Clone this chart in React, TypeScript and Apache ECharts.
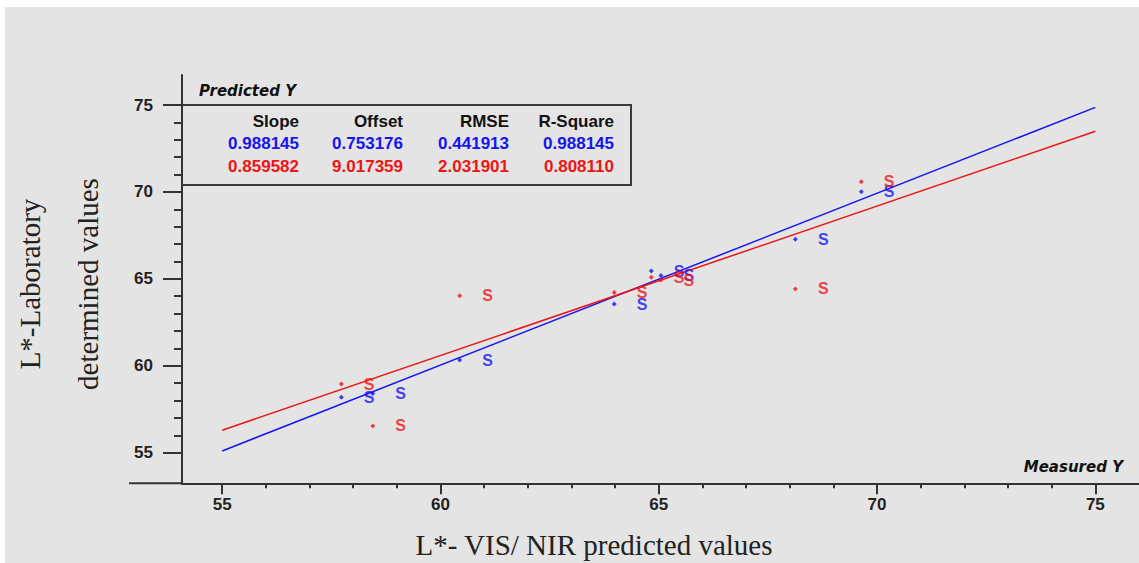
import React, { useEffect, useRef } from "react";
import * as echarts from "echarts";

// ---- data ----
const xMajorTicks = [55, 60, 65, 70, 75];
const yMajorTicks = [55, 60, 65, 70, 75];
const xMinorTicks = [56, 57, 58, 59, 61, 62, 63, 64, 66, 67, 68, 69, 71, 72, 73, 74];
const yMinorTicks = [56, 57, 58, 59, 61, 62, 63, 64, 66, 67, 68, 69, 71, 72, 73, 74];

const measured = [57.73, 58.45, 60.44, 63.98, 64.83, 65.05, 68.13, 69.64];
const predictedBlue = [58.19, 58.41, 60.33, 63.55, 65.45, 65.2, 67.28, 70.01];
const predictedRed = [58.95, 56.54, 64.03, 64.21, 65.09, 64.93, 64.42, 70.59];
const sampleLabels = ["S", "S", "S", "S", "S", "S", "S", "S"];

const statHeaders = ["Slope", "Offset", "RMSE", "R-Square"];
const blueStats = ["0.988145", "0.753176", "0.441913", "0.988145"];
const redStats = ["0.859582", "9.017359", "2.031901", "0.808110"];
const lineRange = [55, 75];

const BLUE = "#1414f0";
const RED = "#ee1414";
const AXIS = "#333333";

export default function App() {
  const ref = useRef<HTMLDivElement>(null);

  useEffect(() => {
    if (!ref.current) return;
    const chart = echarts.init(ref.current, undefined, { renderer: "svg" });

    const fitLine = (stats: string[]) =>
      lineRange.map((x) => [x, parseFloat(stats[0]) * x + parseFloat(stats[1])]);

    const pts = (ys: number[]) => measured.map((x, i) => [x, ys[i], sampleLabels[i]]);

    const colX = [299, 403, 509, 614];
    const rowY = [121, 143.5, 166.5];
    const tableTexts: any[] = [];
    [statHeaders, blueStats, redStats].forEach((row, r) => {
      row.forEach((t, c) => {
        tableTexts.push({
          type: "text",
          x: colX[c],
          y: rowY[r],
          style: {
            text: t,
            fill: r === 0 ? "#111" : r === 1 ? BLUE : RED,
            font: "bold 17px 'Liberation Sans', Arial, sans-serif",
            align: "right",
            verticalAlign: "middle",
          },
        });
      });
    });

    const commonX = {
      type: "value",
      min: 54.08,
      max: 76,
      splitLine: { show: false },
    };
    const commonY = {
      type: "value",
      min: 53.24,
      max: 76.726,
      splitLine: { show: false },
    };

    const sLabel = (color: string) => ({
      show: true,
      formatter: (p: any) => p.data[2],
      position: "right",
      distance: 20,
      color,
      fontSize: 16,
      fontWeight: "bold",
      fontFamily: "'Liberation Sans', Arial, sans-serif",
    });

    chart.setOption({
      animation: false,
      grid: { left: 182, top: 75, width: 958.7, height: 408.3, containLabel: false },
      xAxis: [
        {
          ...commonX,
          position: "bottom",
          axisLine: { show: true, lineStyle: { color: AXIS, width: 2 } },
          axisTick: { show: true, length: 11, customValues: xMajorTicks, lineStyle: { color: AXIS, width: 2 } },
          axisLabel: {
            show: true,
            customValues: xMajorTicks,
            margin: 13,
            color: "#222",
            fontSize: 17,
            fontWeight: "bold",
            fontFamily: "'Liberation Sans', Arial, sans-serif",
          },
        },
        {
          ...commonX,
          position: "bottom",
          axisLine: { show: false },
          axisTick: { show: true, length: 5, customValues: xMinorTicks, lineStyle: { color: AXIS, width: 2 } },
          axisLabel: { show: false },
        },
      ],
      yAxis: [
        {
          ...commonY,
          position: "left",
          axisLine: { show: true, lineStyle: { color: AXIS, width: 2 } },
          axisTick: { show: true, length: 19, customValues: yMajorTicks, lineStyle: { color: AXIS, width: 2 } },
          axisLabel: {
            show: true,
            customValues: yMajorTicks,
            margin: 29,
            color: "#222",
            fontSize: 17,
            fontWeight: "bold",
            fontFamily: "'Liberation Sans', Arial, sans-serif",
          },
        },
        {
          ...commonY,
          position: "left",
          axisLine: { show: false },
          axisTick: { show: true, length: 8, customValues: yMinorTicks, lineStyle: { color: AXIS, width: 2 } },
          axisLabel: { show: false },
        },
      ],
      series: [
        {
          type: "line",
          data: fitLine(blueStats),
          symbol: "none",
          lineStyle: { color: BLUE, width: 1.5 },
          z: 3,
        },
        {
          type: "line",
          data: fitLine(redStats),
          symbol: "none",
          lineStyle: { color: RED, width: 1.5 },
          z: 4,
        },
        {
          type: "scatter",
          data: pts(predictedBlue),
          symbol: "diamond",
          symbolSize: 5,
          itemStyle: { color: BLUE },
          label: sLabel(BLUE),
          z: 5,
        },
        {
          type: "scatter",
          data: pts(predictedRed),
          symbol: "diamond",
          symbolSize: 5,
          itemStyle: { color: RED },
          label: sLabel(RED),
          z: 6,
        },
      ],
      graphic: [
        {
          type: "rect",
          shape: { x: 5, y: 7, width: 1134, height: 556 },
          style: { fill: "#e4e4e4" },
          z: -10,
          silent: true,
        },
        {
          type: "line",
          shape: { x1: 129, y1: 483.3, x2: 183, y2: 483.3 },
          style: { stroke: AXIS, lineWidth: 2 },
        },
        {
          type: "rect",
          shape: { x: 182, y: 105, width: 449, height: 80 },
          style: { fill: "none", stroke: "#3a3a3a", lineWidth: 2 },
        },
        {
          type: "text",
          x: 199,
          y: 91,
          style: {
            text: "Predicted Y",
            fill: "#111",
            font: "italic bold 15px 'DejaVu Sans', sans-serif",
            align: "left",
            verticalAlign: "middle",
          },
        },
        {
          type: "text",
          x: 1123,
          y: 467,
          style: {
            text: "Measured Y",
            fill: "#111",
            font: "italic bold 15px 'DejaVu Sans', sans-serif",
            align: "right",
            verticalAlign: "middle",
          },
        },
        ...tableTexts,
        {
          type: "text",
          x: 59,
          y: 284,
          rotation: Math.PI / 2,
          style: {
            text: "L*-Laboratory\ndetermined values",
            fill: "#222",
            font: "29px 'Liberation Serif', 'Times New Roman', serif",
            align: "center",
            verticalAlign: "middle",
            lineHeight: 58,
          },
        },
        {
          type: "text",
          x: 594,
          y: 545,
          style: {
            text: "L*- VIS/ NIR predicted values",
            fill: "#222",
            font: "29px 'Liberation Serif', 'Times New Roman', serif",
            align: "center",
            verticalAlign: "middle",
          },
        },
      ],
    });

    return () => chart.dispose();
  }, []);

  return (
    <div style={{ position: "fixed", left: 0, top: 0, width: 1139, height: 563, background: "#fff" }}>
      <div ref={ref} style={{ width: 1139, height: 563 }} />
    </div>
  );
}
